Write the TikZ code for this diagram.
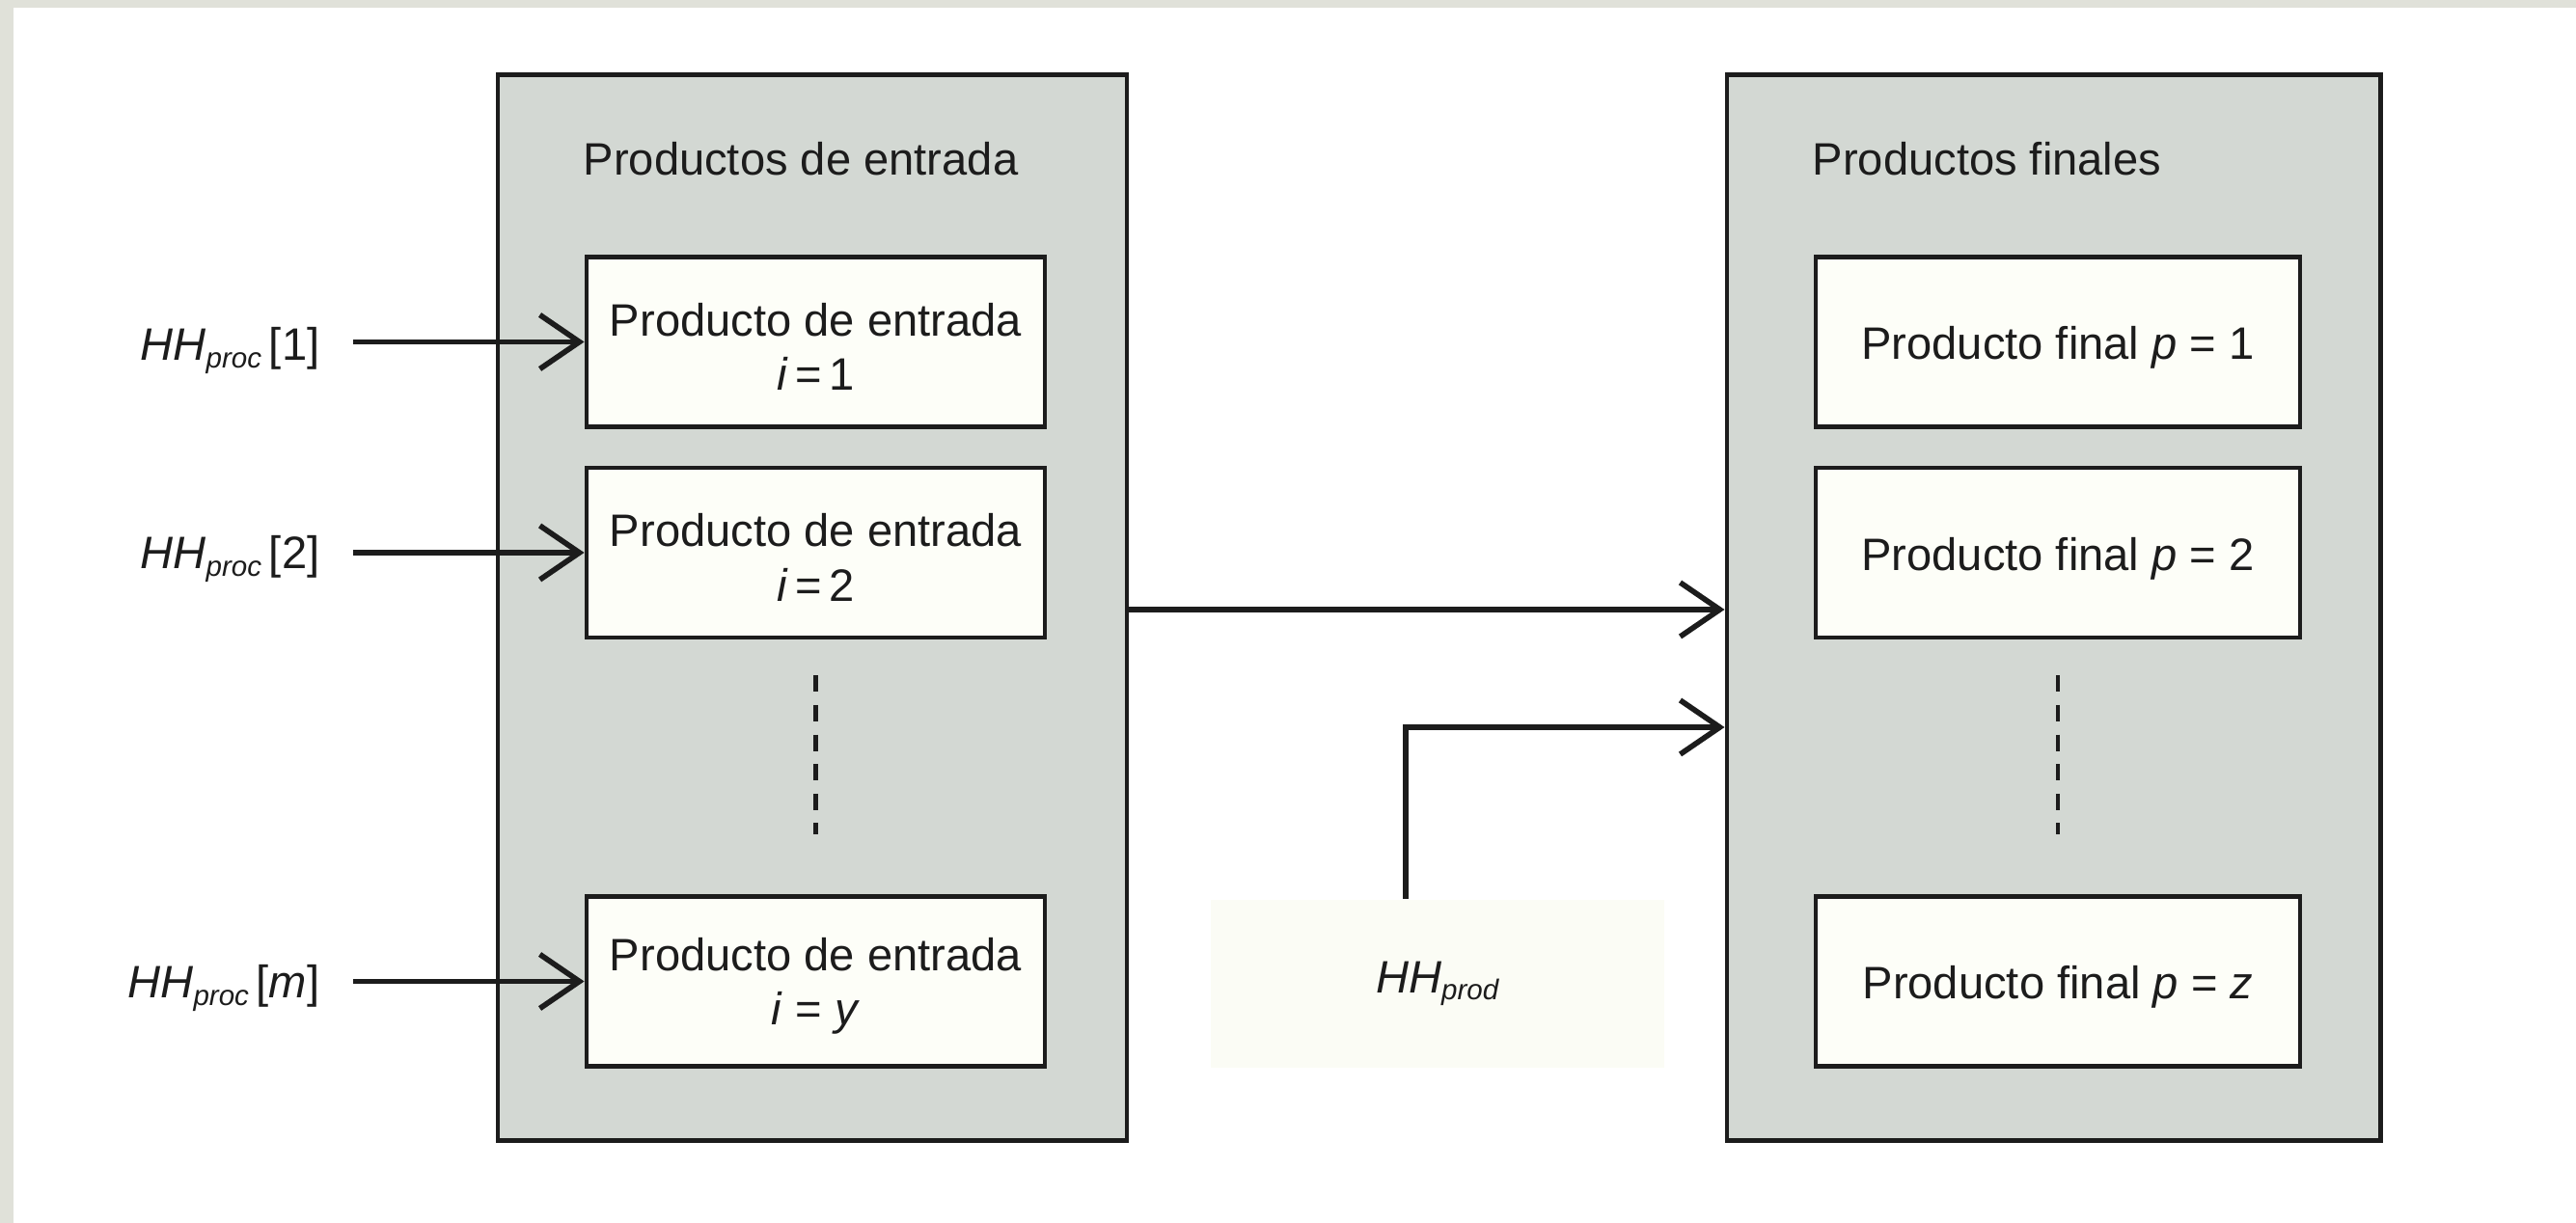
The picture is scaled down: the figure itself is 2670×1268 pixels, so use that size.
\documentclass[tikz,border=0pt]{standalone}
\usepackage{fontspec}
\setmainfont{Liberation Sans}
\usetikzlibrary{arrows.meta,calc}

\definecolor{framebeige}{HTML}{E0E1D9}
\definecolor{groupfill}{HTML}{D3D8D3}
\definecolor{itemfill}{HTML}{FDFEF8}
\definecolor{prodfill}{HTML}{FBFCF5}
\definecolor{ink}{HTML}{1C1C1C}

% HH with an italic subscript
\newcommand{\hhsub}[1]{\textit{HH}\raisebox{-0.15em}{\fontsize{8.4pt}{9pt}\selectfont\textit{#1}}}

\begin{document}
\begin{tikzpicture}[x=0.01cm,y=-0.01cm,
  every node/.style={text=ink,font=\fontsize{13.4pt}{16pt}\selectfont},
  groupbox/.style={draw=ink,line width=1.3pt,fill=groupfill,inner sep=0pt,
    minimum height=11.04cm},
  itembox/.style={draw=ink,line width=1.3pt,fill=itemfill,inner sep=0pt,
    minimum height=1.76cm},
  inbox/.style={itembox,minimum width=4.75cm},
  outbox/.style={itembox,minimum width=5.02cm},
  boxtext/.style={inner sep=0pt,align=center},
  title/.style={anchor=west,inner sep=0pt},
  hhlabel/.style={anchor=base east,inner sep=0pt},
  flow/.style={draw=ink,line width=1.6pt,
    -{Straight Barb[length=0.41cm,width=0.56cm]}},
  ellipsis/.style={draw=ink,line width=1.2pt,dash pattern=on 0.17cm off 0.136cm}
]
% page and frame strips
\fill[white] (0,0) rectangle (2670,1268);
\fill[framebeige] (0,0) rectangle (2670,8);
\fill[framebeige] (0,0) rectangle (14,1268);
\useasboundingbox (0,0) rectangle (2670,1268);

% the two groups
\node[groupbox,minimum width=6.52cm] (ingroup) at (842,630) {};
\node[groupbox,minimum width=6.77cm] (outgroup) at (2128.5,630) {};
\node[title] (intitle) at (604,165) {Productos de entrada};
\node[title] (outtitle) at (1878,165) {Productos finales};

% input products
\node[inbox] (in1) at (845.5,354.5) {};
\node[inbox] (in2) at (845.5,573) {};
\node[inbox] (in3) at (845.5,1017.5) {};
\node[boxtext] (in1t) at ([yshift=-0.05cm]in1.center) {Producto de entrada\\\textit{i}\,=\,1};
\node[boxtext] (in2t) at ([yshift=-0.05cm]in2.center) {Producto de entrada\\\textit{i}\,=\,2};
\node[boxtext] (in3t) at ([yshift=-0.05cm]in3.center) {Producto de entrada\\\textit{i} = \textit{y}};
\draw[ellipsis] ([yshift=-0.37cm]in2.south) -- ([yshift=0.62cm]in3.north);

% final products
\node[outbox] (out1) at (2133,354.5) {};
\node[outbox] (out2) at (2133,573) {};
\node[outbox] (out3) at (2133,1017.5) {};
\node[boxtext] (out1t) at ([yshift=-0.06cm]out1.center) {Producto final \textit{p} = 1};
\node[boxtext] (out2t) at ([yshift=-0.06cm]out2.center) {Producto final \textit{p} = 2};
\node[boxtext] (out3t) at ([yshift=-0.06cm]out3.center) {Producto final \textit{p} = \textit{z}};
\draw[ellipsis] ([yshift=-0.37cm]out2.south) -- ([yshift=0.62cm]out3.north);

% process water footprints entering each input product
\node[hhlabel] (h1) at (332,374) {\hhsub{proc}\,[1]};
\node[hhlabel] (h2) at (332,590) {\hhsub{proc}\,[2]};
\node[hhlabel] (h3) at (332,1035) {\hhsub{proc}\,[\textit{m}]};
\draw[flow] (h1.east |- in1.west) ++(34,0) -- (in1.west);
\draw[flow] (h2.east |- in2.west) ++(34,0) -- (in2.west);
\draw[flow] (h3.east |- in3.west) ++(34,0) -- (in3.west);

% inputs to final products
\coordinate (mainy) at (0,632);
\draw[flow] (ingroup.east |- mainy) -- (outgroup.west |- mainy);

% production water footprint
\node[fill=prodfill,minimum width=4.7cm,minimum height=1.74cm,inner sep=0pt]
  (prod) at (1490,1020) {\hhsub{prod}};
\coordinate (prody) at (0,754);
\draw[flow] ([xshift=-0.33cm]prod.north) |- (outgroup.west |- prody);
\end{tikzpicture}
\end{document}
